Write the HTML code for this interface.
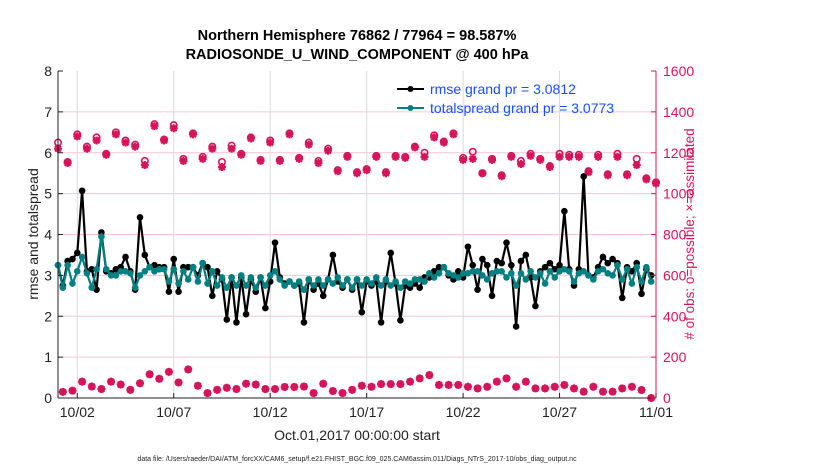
<!DOCTYPE html>
<html><head><meta charset="utf-8"><style>
body{margin:0;background:#fff;}
svg{display:block;font-family:"Liberation Sans",Arial,sans-serif;}
</style></head><body>
<svg id="chart" width="830" height="470">
<text x="357" y="40" text-anchor="middle" font-size="14.5" font-weight="bold">Northern Hemisphere 76862 / 77964 = 98.587%</text>
<text x="357" y="59" text-anchor="middle" font-size="14.5" font-weight="bold">RADIOSONDE_U_WIND_COMPONENT @ 400 hPa</text>
<g id="grid"></g>
<g id="marks"></g>
<g id="axes"></g>
<text transform="translate(38,234) rotate(-90)" text-anchor="middle" font-size="14" fill="#222">rmse and totalspread</text>
<text transform="translate(694,234) rotate(-90)" text-anchor="middle" font-size="13.5" fill="#d6145a"># of obs: o=possible; ×=assimilated</text>
<text x="357" y="440" text-anchor="middle" font-size="14" fill="#222">Oct.01,2017 00:00:00 start</text>
<text x="357" y="461" text-anchor="middle" font-size="7" fill="#222">data file: /Users/raeder/DAI/ATM_forcXX/CAM6_setup/f.e21.FHIST_BGC.f09_025.CAM6assim.011/Diags_NTrS_2017-10/obs_diag_output.nc</text>
<g>
<line x1="397" y1="89" x2="424" y2="89" stroke="#000" stroke-width="2"/>
<circle cx="410.5" cy="89" r="3" fill="#000"/>
<text x="430" y="94" font-size="14" fill="#1a4fff">rmse grand pr = 3.0812</text>
<line x1="397" y1="108" x2="424" y2="108" stroke="#008080" stroke-width="2"/>
<circle cx="410.5" cy="108" r="3" fill="#008080"/>
<text x="430" y="113" font-size="14" fill="#1a4fff">totalspread grand pr = 3.0773</text>
</g>
</svg>
<script>
const rmse=[3.25,2.75,3.35,3.4,3.55,5.07,3.1,3.15,2.65,4.05,3.1,3.05,
3.15,3.2,3.45,3.1,2.65,4.42,3.5,3.2,3.25,3.2,3.2,2.6,
3.4,2.6,3.2,3.2,3.2,3.0,3.3,3.2,2.5,3.1,2.9,1.92,
2.95,1.85,2.95,2.05,2.9,2.6,2.95,2.2,2.85,3.8,2.95,2.8,
2.85,2.75,2.8,1.85,2.9,2.65,2.8,2.5,2.9,3.5,2.85,2.7,
2.9,2.65,2.9,2.1,2.85,2.75,2.85,1.85,2.85,3.55,2.8,1.9,
2.75,2.7,2.8,2.7,2.95,2.95,3.1,3.2,3.2,3.0,2.9,3.1,
2.95,3.7,3.25,2.65,3.4,3.25,2.5,3.35,3.3,3.8,3.25,1.75,
3.35,3.5,2.95,2.25,3.1,3.2,3.3,3.15,3.25,4.57,3.15,2.75,
3.15,5.42,3.0,2.95,3.2,3.45,3.3,3.4,3.3,2.45,3.2,3.1,
3.3,2.55,3.15,3.0];
const spread=[3.25,2.7,3.25,2.8,3.1,3.45,3.05,2.7,3.15,3.95,3.15,3.0,
3.0,3.1,3.1,3.05,2.7,3.0,3.1,3.2,3.1,3.15,3.15,2.85,
3.15,2.8,3.1,2.9,3.2,2.85,3.3,2.8,3.1,2.75,2.95,2.7,
2.95,2.75,3.0,2.75,2.95,2.7,2.95,2.75,3.0,3.1,2.9,2.75,
2.85,2.75,2.85,2.65,2.9,2.75,2.9,2.75,2.9,2.8,2.95,2.75,
2.9,2.7,2.9,2.75,2.9,2.8,2.95,2.75,2.9,2.75,2.85,2.7,
2.85,2.8,2.9,2.9,2.85,3.05,2.95,3.05,3.2,3.05,3.0,2.95,
3.05,3.05,3.1,3.1,3.0,2.9,3.05,3.1,3.1,2.95,3.05,2.75,
3.05,2.9,3.1,2.95,3.05,2.8,3.1,2.95,3.1,3.15,3.1,2.85,
3.05,3.1,3.0,2.9,3.1,3.15,3.05,3.0,3.25,2.9,3.15,2.8,
3.2,2.85,3.2,2.85];
const obsMainAssim=[1220,1150,1280,1220,1260,1190,1290,1250,1230,1140,1330,1260,1320,1160,1290,1170,
1220,1130,1220,1190,1270,1160,1250,1160,1290,1170,1240,1150,1210,1110,1180,1100,
1115,1180,1100,1180,1175,1226,1180,1275,1250,1290,1165,1170,1100,1165,1085,1180,
1145,1185,1165,1130,1180,1180,1180,1105,1180,1090,1180,1090,1140,1070,1050];
const obsMainPossible=[1250,1155,1290,1230,1275,1195,1300,1260,1240,1160,1340,1265,1335,1170,1295,1180,
1230,1155,1235,1195,1275,1165,1260,1165,1295,1175,1250,1160,1220,1115,1185,1105,
1120,1185,1105,1185,1180,1230,1200,1285,1255,1295,1175,1205,1100,1170,1090,1185,
1160,1195,1170,1135,1195,1190,1190,1110,1190,1095,1195,1095,1170,1075,1055];
const obsMinor=[30,36,80,56,44,80,66,40,72,116,94,128,76,140,60,24,
40,50,44,70,66,44,44,54,54,56,24,70,34,24,40,60,
55,68,68,68,80,96,112,64,64,64,55,47,55,80,96,55,80,47,47,55,64,47,31,55,31,31,47,55,39,0];
const yTicksL=[0,1,2,3,4,5,6,7,8];
const yTicksR=[0,200,400,600,800,1000,1200,1400,1600];
const xTickDays=[1,6,11,16,21,26,31];
const xTickLabels=["10/02","10/07","10/12","10/17","10/22","10/27","11/01"];

const L=58,R=656,T=71,B=398,NDAYS=31;
const xDay=d=>L+(R-L)*d/NDAYS;
const xStep=i=>xDay(i/4);
const yL=v=>B-(B-T)*v/8;
const yR=v=>B-(B-T)*v/1600;
const NS='http://www.w3.org/2000/svg';
function mk(parent,tag,attrs){const e=document.createElementNS(NS,tag);for(const k in attrs)e.setAttribute(k,attrs[k]);parent.appendChild(e);return e;}
const grid=document.getElementById('grid'),marks=document.getElementById('marks'),axes=document.getElementById('axes');
mk(grid,'rect',{x:L,y:T,width:R-L,height:B-T,fill:'#fff'});
yTicksL.forEach(v=>{if(v>0&&v<8){const g=mk(grid,'line',{x1:L,x2:R,y1:yL(v),y2:yL(v),stroke:'#f2c6d6','stroke-width':1});

}});
xTickDays.forEach(d=>{if(d<NDAYS){const g=mk(grid,'line',{x1:xDay(d),x2:xDay(d),y1:T,y2:B,stroke:'#d9d9d9','stroke-width':1});

}});
const pink='#d6145a';
function star(x,y,name){const g=mk(marks,'path',{d:`M${x-4} ${y}H${x+4}M${x} ${y-4}V${y+4}M${x-2.9} ${y-2.9}L${x+2.9} ${y+2.9}M${x-2.9} ${y+2.9}L${x+2.9} ${y-2.9}`,stroke:pink,'stroke-width':2.2});

}
obsMainPossible.forEach((v,k)=>{const c=mk(marks,'circle',{cx:xStep(2*k),cy:yR(v),r:3.2,fill:'none',stroke:pink,'stroke-width':1.6});

});
obsMainAssim.forEach((v,k)=>star(xStep(2*k),yR(v),'obs-assimilated-point'));
obsMinor.forEach((v,k)=>{const i=2*k+1;const c=mk(marks,'circle',{cx:xStep(i),cy:yR(v),r:3,fill:'none',stroke:pink,'stroke-width':1.6});


star(xStep(i),yR(v),'obs-assimilated-point');});
function series(arr,col,name){
 const p=mk(marks,'polyline',{points:arr.map((v,i)=>xStep(i)+','+yL(v)).join(' '),fill:'none',stroke:col,'stroke-width':2.2,'stroke-linejoin':'round'});
 
 
 arr.forEach((v,i)=>{const c=mk(marks,'circle',{cx:xStep(i),cy:yL(v),r:3.3,fill:col});
 
 });
}
series(rmse,'#000','rmse');
series(spread,'#008080','totalspread');
mk(axes,'line',{x1:L,x2:L,y1:T,y2:B,stroke:'#222','stroke-width':1});
mk(axes,'line',{x1:L,x2:R,y1:B,y2:B,stroke:'#222','stroke-width':1});
mk(axes,'line',{x1:R,x2:R,y1:T,y2:B,stroke:pink,'stroke-width':1});
yTicksL.forEach(v=>{mk(axes,'line',{x1:L,x2:L+5,y1:yL(v),y2:yL(v),stroke:'#222'});
const t=mk(axes,'text',{x:L-6,y:yL(v)+5,'text-anchor':'end','font-size':14,fill:'#222'});t.textContent=v;

});
yTicksR.forEach(v=>{mk(axes,'line',{x1:R-5,x2:R,y1:yR(v),y2:yR(v),stroke:pink});
const t=mk(axes,'text',{x:R+7,y:yR(v)+5,'font-size':14,fill:pink});t.textContent=v;

});
xTickDays.forEach((d,k)=>{mk(axes,'line',{x1:xDay(d),x2:xDay(d),y1:B,y2:B-5,stroke:'#222'});
const t=mk(axes,'text',{x:xDay(d),y:B+19,'text-anchor':'middle','font-size':14,fill:'#222'});t.textContent=xTickLabels[k];

});
</script>
</body></html>
